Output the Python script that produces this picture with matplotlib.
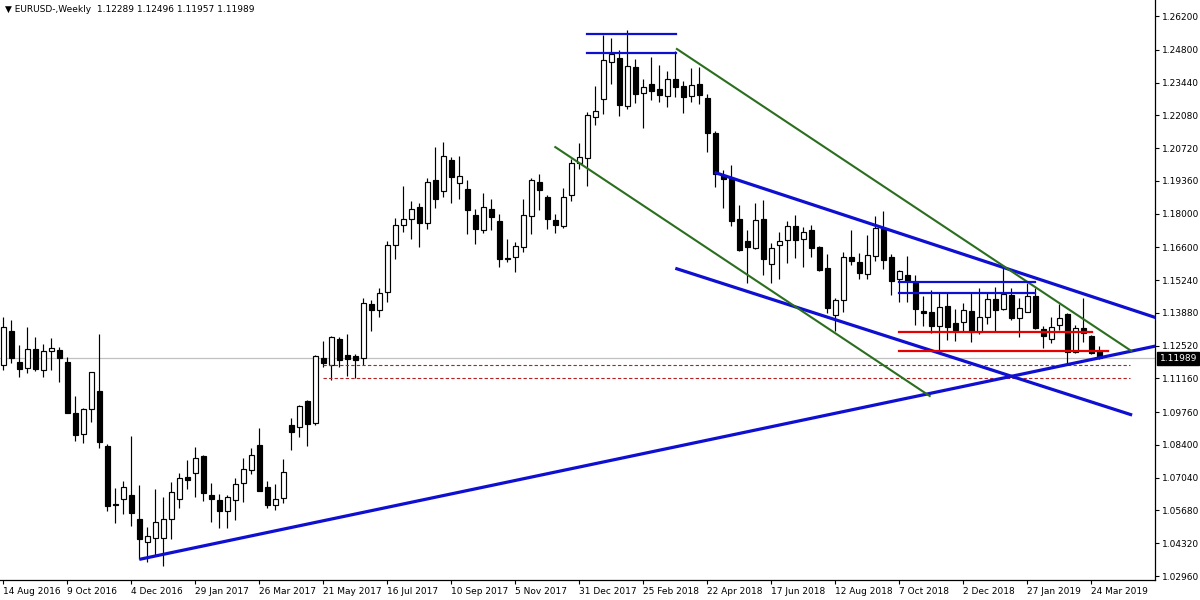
import matplotlib
matplotlib.use("Agg")
import matplotlib.pyplot as plt
from matplotlib.transforms import blended_transform_factory
import numpy as np

# ---- weekly EURUSD candles (week index 0 = 14 Aug 2016) ----
opens = [1.1172, 1.1313, 1.1184, 1.1158, 1.1237, 1.1152, 1.1231, 1.1233, 1.1184, 1.0971,
         1.0884, 1.0988, 1.1065, 1.0836, 1.0593, 1.0614, 1.0632, 1.0533, 1.0438, 1.0455,
         1.0455, 1.0531, 1.0614, 1.0707, 1.0722, 1.0793, 1.0631, 1.0610, 1.0565, 1.0610,
         1.0681, 1.0735, 1.0838, 1.0664, 1.0589, 1.0618, 1.0921, 1.0913, 1.1022, 1.0932,
         1.1199, 1.1173, 1.1280, 1.1212, 1.1208, 1.1199, 1.1424, 1.1399, 1.1473, 1.1668,
         1.1751, 1.1776, 1.1826, 1.1760, 1.1938, 1.1893, 1.2021, 1.1926, 1.1901, 1.1794,
         1.1732, 1.1818, 1.1769, 1.1613, 1.1619, 1.1660, 1.1789, 1.1930, 1.1868, 1.1773,
         1.1747, 1.1877, 1.2010, 1.2031, 1.2200, 1.2274, 1.2428, 1.2446, 1.2248, 1.2408,
         1.2299, 1.2337, 1.2317, 1.2287, 1.2357, 1.2330, 1.2288, 1.2338, 1.2278, 1.2133,
         1.1960, 1.1946, 1.1776, 1.1686, 1.1658, 1.1776, 1.1590, 1.1668, 1.1689, 1.1747,
         1.1693, 1.1732, 1.1660, 1.1573, 1.1378, 1.1441, 1.1619, 1.1599, 1.1549, 1.1624,
         1.1740, 1.1621, 1.1527, 1.1545, 1.1516, 1.1395, 1.1392, 1.1333, 1.1417, 1.1345,
         1.1351, 1.1396, 1.1307, 1.1371, 1.1444, 1.1403, 1.1462, 1.1368, 1.1393, 1.1457,
         1.1321, 1.1278, 1.1338, 1.1383, 1.1227, 1.1324, 1.1292, 1.12289]
highs = [1.1371, 1.1358, 1.1255, 1.1331, 1.1288, 1.1259, 1.1284, 1.1245, 1.1204, 1.1043,
         1.0994, 1.1143, 1.1300, 1.0844, 1.0661, 1.0689, 1.0877, 1.0672, 1.0498, 1.0657,
         1.0624, 1.0686, 1.0722, 1.0777, 1.0830, 1.0798, 1.0681, 1.0636, 1.0631, 1.0701,
         1.0784, 1.0826, 1.0909, 1.0689, 1.0677, 1.0780, 1.0950, 1.1006, 1.1026, 1.1212,
         1.1271, 1.1292, 1.1288, 1.1300, 1.1217, 1.1450, 1.1441, 1.1490, 1.1686, 1.1780,
         1.1915, 1.1852, 1.1843, 1.1946, 1.2075, 1.2096, 1.2035, 1.2040, 1.1939, 1.1818,
         1.1885, 1.1859, 1.1798, 1.1695, 1.1681, 1.1862, 1.1949, 1.1964, 1.1878, 1.1797,
         1.1907, 1.2028, 1.2093, 1.2222, 1.2330, 1.2541, 1.2527, 1.2479, 1.2562, 1.2442,
         1.2359, 1.2449, 1.2417, 1.2392, 1.2476, 1.2350, 1.2403, 1.2410, 1.2296, 1.2143,
         1.1981, 1.2000, 1.1834, 1.1732, 1.1843, 1.1856, 1.1679, 1.1724, 1.1770, 1.1795,
         1.1746, 1.1753, 1.1666, 1.1632, 1.1448, 1.1642, 1.1733, 1.1635, 1.1711, 1.1790,
         1.1811, 1.1632, 1.1566, 1.1625, 1.1545, 1.1458, 1.1483, 1.1469, 1.1469, 1.1402,
         1.1428, 1.1469, 1.1490, 1.1472, 1.1497, 1.1587, 1.1492, 1.1448, 1.1511, 1.1491,
         1.1333, 1.1372, 1.1425, 1.1387, 1.1338, 1.1448, 1.1296, 1.12496]
lows = [1.1151, 1.1181, 1.1123, 1.1140, 1.1148, 1.1123, 1.1151, 1.1102, 1.0971, 1.0857,
        1.0849, 1.0936, 1.0828, 1.0567, 1.0517, 1.0552, 1.0505, 1.0365, 1.0353, 1.0383,
        1.0339, 1.0451, 1.0579, 1.0658, 1.0622, 1.0608, 1.0521, 1.0494, 1.0494, 1.0527,
        1.0602, 1.0721, 1.0649, 1.0579, 1.0569, 1.0600, 1.0819, 1.0874, 1.0837, 1.0924,
        1.1162, 1.1109, 1.1163, 1.1126, 1.1118, 1.1173, 1.1314, 1.1372, 1.1434, 1.1613,
        1.1725, 1.1693, 1.1663, 1.1735, 1.1824, 1.1870, 1.1843, 1.1862, 1.1717, 1.1673,
        1.1719, 1.1732, 1.1577, 1.1598, 1.1556, 1.1639, 1.1714, 1.1814, 1.1735, 1.1718,
        1.1740, 1.1852, 1.1985, 1.1915, 1.2168, 1.2213, 1.2338, 1.2206, 1.2234, 1.2259,
        1.2156, 1.2273, 1.2262, 1.2242, 1.2285, 1.2219, 1.2264, 1.2254, 1.2057, 1.1912,
        1.1824, 1.1750, 1.1645, 1.1511, 1.1653, 1.1545, 1.1511, 1.1530, 1.1594, 1.1616,
        1.1577, 1.1621, 1.1562, 1.1389, 1.1313, 1.1393, 1.1585, 1.1529, 1.1527, 1.1605,
        1.1570, 1.1462, 1.1434, 1.1434, 1.1338, 1.1335, 1.1303, 1.1234, 1.1275, 1.1270,
        1.1313, 1.1268, 1.1302, 1.1341, 1.1307, 1.1398, 1.1358, 1.1289, 1.1390, 1.1319,
        1.1242, 1.1262, 1.1317, 1.1176, 1.1221, 1.1268, 1.1217, 1.11957]
closes = [1.1329, 1.1199, 1.1156, 1.1237, 1.1156, 1.1229, 1.1241, 1.1202, 1.0974, 1.0882,
          1.0989, 1.1143, 1.0853, 1.0588, 1.0589, 1.0665, 1.0559, 1.0451, 1.0462, 1.0520,
          1.0531, 1.0643, 1.0703, 1.0696, 1.0784, 1.0642, 1.0614, 1.0565, 1.0623, 1.0677,
          1.0739, 1.0797, 1.0650, 1.0592, 1.0614, 1.0726, 1.0895, 1.1000, 1.0928, 1.1208,
          1.1181, 1.1287, 1.1194, 1.1198, 1.1194, 1.1428, 1.1401, 1.1469, 1.1670, 1.1751,
          1.1776, 1.1820, 1.1762, 1.1930, 1.1862, 1.2038, 1.1951, 1.1955, 1.1816, 1.1735,
          1.1826, 1.1785, 1.1610, 1.1615, 1.1667, 1.1793, 1.1938, 1.1899, 1.1776, 1.1751,
          1.1868, 1.2009, 1.2035, 1.2209, 1.2226, 1.2437, 1.2461, 1.2251, 1.2411, 1.2296,
          1.2325, 1.2310, 1.2292, 1.2357, 1.2327, 1.2285, 1.2334, 1.2291, 1.2133, 1.1963,
          1.1942, 1.1770, 1.1649, 1.1660, 1.1772, 1.1610, 1.1658, 1.1687, 1.1747, 1.1689,
          1.1725, 1.1658, 1.1566, 1.1409, 1.1441, 1.1621, 1.1604, 1.1555, 1.1628, 1.1740,
          1.1607, 1.1521, 1.1561, 1.1520, 1.1404, 1.1389, 1.1333, 1.1414, 1.1331, 1.1317,
          1.1399, 1.1307, 1.1371, 1.1444, 1.1399, 1.1465, 1.1365, 1.1409, 1.1457, 1.1324,
          1.1292, 1.1331, 1.1365, 1.1227, 1.1326, 1.1303, 1.1223, 1.11989]

x_tick_pos = list(range(0, 137, 8))
x_tick_labels = ["14 Aug 2016", "9 Oct 2016", "4 Dec 2016", "29 Jan 2017", "26 Mar 2017",
                 "21 May 2017", "16 Jul 2017", "10 Sep 2017", "5 Nov 2017", "31 Dec 2017",
                 "25 Feb 2018", "22 Apr 2018", "17 Jun 2018", "12 Aug 2018", "7 Oct 2018",
                 "2 Dec 2018", "27 Jan 2019", "24 Mar 2019"]
y_ticks = [1.26200, 1.24800, 1.23440, 1.22080, 1.20720, 1.19360, 1.18000, 1.16600, 1.15240,
           1.13880, 1.12520, 1.11160, 1.09760, 1.08400, 1.07040, 1.05680, 1.04320, 1.02960]

title_text = "\u25BC EURUSD-,Weekly  1.12289 1.12496 1.11957 1.11989"
last_price = 1.11989

# ---- drawn objects (week index, price) ----
support_x, support_y = [17.0, 145.0], [1.0365, 1.1257]
chan_up_x, chan_up_y = [88.9, 145.0], [1.1971, 1.1358]
chan_lo_x, chan_lo_y = [84.0, 141.1], [1.1573, 1.0964]
green_up_x, green_up_y = [84.2, 141.0], [1.2483, 1.1230]
green_lo_x, green_lo_y = [69.0, 115.8], [1.2076, 1.1043]
top_hlines = [(73.0, 84.1, 1.2547), (73.0, 84.1, 1.2467)]
mid_hlines = [(112.0, 129.0, 1.1518), (112.0, 129.0, 1.1472)]
red_hlines = [(112.0, 136.05, 1.1307), (112.0, 138.05, 1.1231)]
dash_hlines = [(40.0, 140.8, 1.1170), (40.0, 140.8, 1.1117)]

plt.rcParams['font.family'] = ['DejaVu Sans']
fig = plt.figure(figsize=(12, 6), dpi=100)
fig.patch.set_facecolor('white')
ax = fig.add_axes([0.0, 20 / 600, 1155 / 1200, 580 / 600])
ax.set_facecolor('white')

o = np.array(opens); h = np.array(highs); l = np.array(lows); c = np.array(closes)
idx = np.arange(len(o))
up = c >= o
bottom = np.minimum(o, c)
height = np.maximum(np.abs(c - o), 0.00012)

ax.axhline(last_price, color='#C0C0C0', lw=0.9, zorder=1)
ax.vlines(idx, l, h, color='black', lw=0.85, zorder=2)
ax.bar(idx[up], height[up], bottom=bottom[up], width=0.62, color='white',
       edgecolor='black', linewidth=0.85, zorder=3)
ax.bar(idx[~up], height[~up], bottom=bottom[~up], width=0.62, color='black',
       edgecolor='black', linewidth=0.85, zorder=3)

blue = '#0F0FD2'
green = '#2A6E1E'
red = '#E60000'
ax.plot(support_x, support_y, color=blue, lw=2.3, zorder=5, solid_capstyle='butt')
ax.plot(chan_up_x, chan_up_y, color=blue, lw=2.3, zorder=5, solid_capstyle='butt')
ax.plot(chan_lo_x, chan_lo_y, color=blue, lw=2.3, zorder=5, solid_capstyle='butt')
ax.plot(green_up_x, green_up_y, color=green, lw=1.5, zorder=5)
ax.plot(green_lo_x, green_lo_y, color=green, lw=1.5, zorder=5)
for x0, x1, y in top_hlines + mid_hlines:
    ax.plot([x0, x1], [y, y], color=blue, lw=1.6, zorder=5)
for x0, x1, y in red_hlines:
    ax.plot([x0, x1], [y, y], color=red, lw=1.6, zorder=5)
for x0, x1, y in dash_hlines:
    ax.plot([x0, x1], [y, y], color='#B22222', lw=0.8, ls=(0, (3, 2)), zorder=4)

ax.set_xlim(-0.4125, 143.96)
ax.set_ylim(1.02794, 1.26864)

ax.yaxis.tick_right()
ax.set_yticks(y_ticks)
ax.set_yticklabels([f"{v:.5f}" for v in y_ticks])
ax.set_xticks(x_tick_pos)
ax.set_xticklabels(x_tick_labels, ha='left')
ax.tick_params(axis='y', direction='out', length=3, width=0.8, labelsize=6.5, pad=2,
               colors='black')
ax.tick_params(axis='x', direction='out', length=3, width=0.8, labelsize=6.5, pad=2,
               colors='black')
for lbl in ax.get_xticklabels():
    lbl.set_horizontalalignment('left')

for side in ['top', 'left']:
    ax.spines[side].set_visible(False)
for side in ['right', 'bottom']:
    ax.spines[side].set_color('black')
    ax.spines[side].set_linewidth(0.9)

trans = blended_transform_factory(ax.transAxes, ax.transData)
ax.text(1.004, last_price, f"{last_price:.5f}", transform=trans, ha='left', va='center',
        fontsize=6.5, color='white', zorder=10, clip_on=False,
        bbox=dict(boxstyle='square,pad=0.25', facecolor='black', edgecolor='black'))

fig.text(5 / 1200, 1 - 10 / 600, title_text, ha='left', va='center', fontsize=6.5,
         color='black')

fig.savefig('out.png', dpi=100, facecolor='white')
